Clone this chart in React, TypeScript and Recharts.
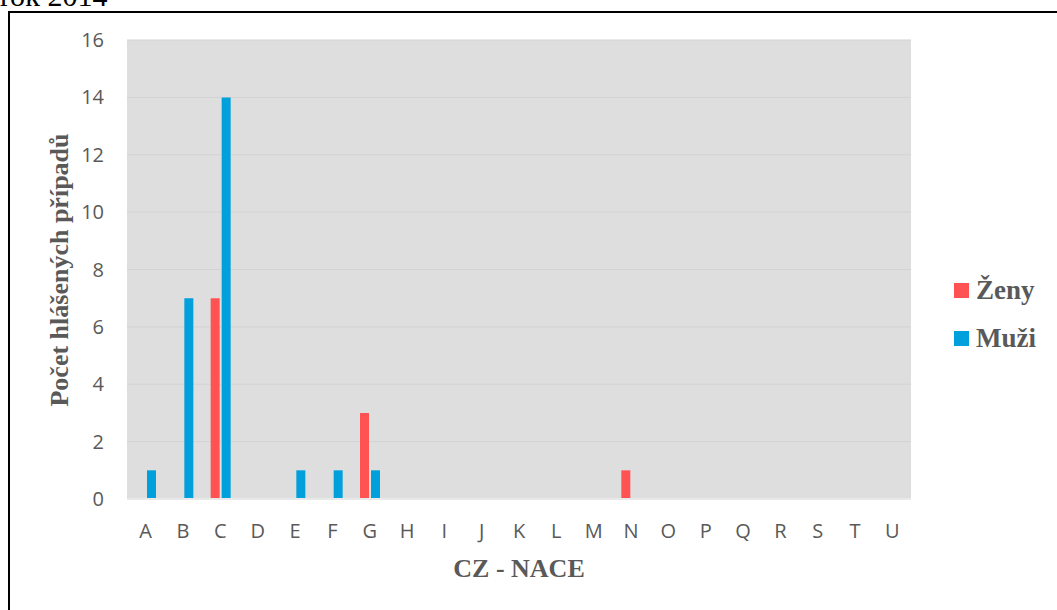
import React from "react";
import { BarChart, Bar, XAxis, YAxis, CartesianGrid } from "recharts";

const categories = ["A","B","C","D","E","F","G","H","I","J","K","L","M","N","O","P","Q","R","S","T","U"];
const zeny = [0,0,7,0,0,0,3,0,0,0,0,0,0,1,0,0,0,0,0,0,0];
const muzi = [1,7,14,0,1,1,1,0,0,0,0,0,0,0,0,0,0,0,0,0,0];
const yTicks = [0,2,4,6,8,10,12,14,16];

const data = categories.map((c, i) => ({ cat: c, zeny: zeny[i], muzi: muzi[i] }));

const ZENY_COLOR = "#FF5353";
const MUZI_COLOR = "#00A0DC";
const TEXT_COLOR = "#595959";
const SERIF = '"Liberation Serif", "Times New Roman", serif';
const SANS = '"Open Sans", sans-serif';

const legendItems = [
  { name: "Ženy", color: ZENY_COLOR },
  { name: "Muži", color: MUZI_COLOR },
];

function LegendContent() {
  return (
    <div style={{ position: "absolute", left: 954, top: 266 }}>
      {legendItems.map((it) => (
        <div key={it.name} style={{ display: "flex", alignItems: "center", height: 48 }}>
          <div style={{ width: 15, height: 15, background: it.color, marginRight: 7 }} />
          <span style={{ fontFamily: SERIF, fontWeight: "bold", fontSize: 27, color: TEXT_COLOR, lineHeight: "30px" }}>
            {it.name}
          </span>
        </div>
      ))}
    </div>
  );
}

export default function App() {
  return (
    <div style={{ position: "fixed", left: 0, top: 0, width: 1057, height: 610, overflow: "hidden", background: "#fff" }}>
      <div style={{ position: "absolute", left: 0, top: -19, fontFamily: SERIF, fontSize: 30, lineHeight: "30px", color: "#000", whiteSpace: "nowrap" }}>
        rok 2014
      </div>
      <div style={{ position: "absolute", left: 8, top: 11, width: 1100, height: 700, border: "2px solid #000", boxSizing: "border-box" }} />
      <div style={{ position: "absolute", left: 0, top: 0 }}>
        <BarChart
          width={1057}
          height={610}
          data={data}
          margin={{ top: 40, right: 146, bottom: 81, left: 0 }}
          barSize={9}
          barGap={2}
        >
          <CartesianGrid vertical={false} stroke="#d3d3d3" fill="#dedede" />
          <XAxis
            dataKey="cat"
            height={30}
            tickLine={false}
            tickSize={0}
            tickMargin={25}
            axisLine={{ stroke: "#e9e9e9", strokeWidth: 2 }}
            tick={{ fill: TEXT_COLOR, fontSize: 20, fontFamily: SANS }}
            interval={0}
          />
          <YAxis
            width={127}
            domain={[0, 16]}
            ticks={yTicks}
            tickLine={false}
            tickSize={0}
            tickMargin={23}
            axisLine={false}
            tick={{ fill: TEXT_COLOR, fontSize: 20, fontFamily: SANS }}
          />
          <Bar dataKey="zeny" name="Ženy" fill={ZENY_COLOR} isAnimationActive={false} />
          <Bar dataKey="muzi" name="Muži" fill={MUZI_COLOR} isAnimationActive={false} />
        </BarChart>
      </div>
      <LegendContent />
      <div
        style={{
          position: "absolute",
          left: 60,
          top: 270,
          transform: "translate(-50%, -50%) rotate(-90deg)",
          fontFamily: SERIF,
          fontWeight: "bold",
          fontSize: 26,
          color: TEXT_COLOR,
          whiteSpace: "nowrap",
        }}
      >
        Počet hlášených případů
      </div>
      <div
        style={{
          position: "absolute",
          left: 519,
          top: 569,
          transform: "translate(-50%, -50%)",
          fontFamily: SERIF,
          fontWeight: "bold",
          fontSize: 26,
          color: TEXT_COLOR,
          whiteSpace: "nowrap",
        }}
      >
        CZ - NACE
      </div>
    </div>
  );
}
